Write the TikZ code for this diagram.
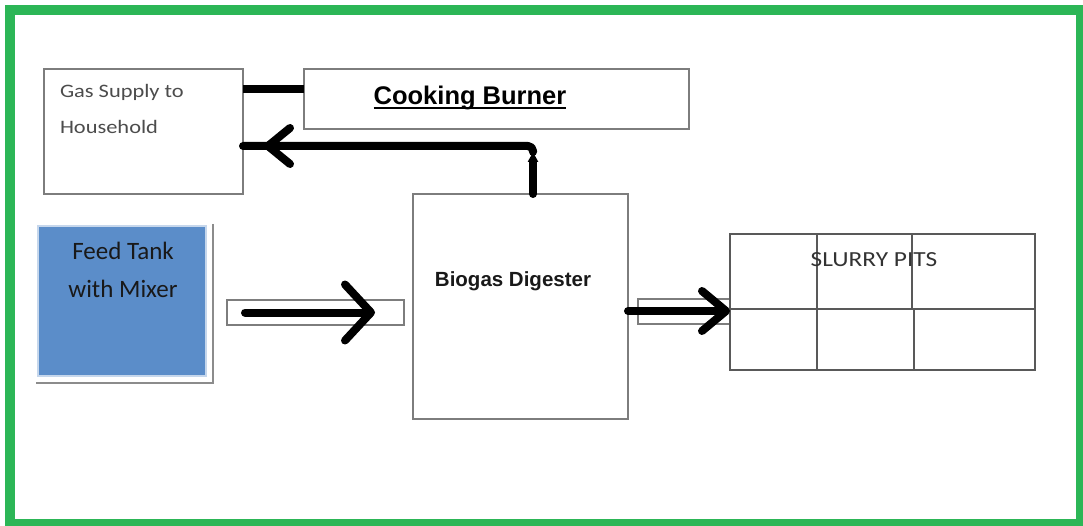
\documentclass[tikz,border=0pt]{standalone}
\usepackage{fontspec}
\usetikzlibrary{arrows.meta, positioning, decorations.markings}
\newfontfamily\carlito{Carlito}
\newfontfamily\carlitowide[FakeStretch=1.18]{Carlito}
\newfontfamily\arialfont{Liberation Sans}
\definecolor{framegreen}{RGB}{44,182,86}
\definecolor{feedblue}{RGB}{91,141,201}
\definecolor{boxgray}{RGB}{125,125,125}
\newcommand{\thickunder}[1]{\setbox0\hbox{#1}\rlap{\rule[-4.5pt]{\wd0}{2pt}}\box0}

\begin{document}
\begin{tikzpicture}[
    x=1pt, y=-1pt,
    box/.style={rectangle, draw=boxgray, line width=1.5pt, fill=white, inner sep=0pt, outer sep=0pt},
    feed/.style={rectangle, fill=feedblue, draw=feedblue!35!white, line width=2pt, inner sep=0pt, outer sep=0pt},
    gridline/.style={draw=black!65, line width=1.3pt},
    fat/.style={line width=8pt, line cap=round, line join=round},
    label/.style={inner sep=0pt, outer sep=0pt}
]
\useasboundingbox (0,0) rectangle (1083,526);

% Frame
\draw[framegreen, line width=10pt] (10,10) rectangle (1081,524);

% Gas supply and burner
\node[box, minimum width=199pt, minimum height=125pt] (gas) at (143.5,131.5) {};
\node[label, anchor=north west, align=left, text=black!70,
      font=\carlitowide\fontsize{19}{36}\selectfont] (gaslbl) at (60,84) {Gas Supply to\\Household};
\node[box, minimum width=385pt, minimum height=60pt] (burner) at (496.5,99) {};
\node[label, anchor=base, font=\arialfont\bfseries\fontsize{25.5}{30}\selectfont] (burnerlbl) at (470,105) {\thickunder{Cooking Burner}};

% Feed tank
\node[feed, minimum width=168pt, minimum height=150pt] (feed) at (122,301) {};
\draw[draw=black!45, line width=1.3pt] ([xshift=7pt,yshift=2pt]feed.north east) -- ([xshift=7pt,yshift=-7pt]feed.south east) -- ([xshift=-2pt,yshift=-7pt]feed.south west);
\node[label, anchor=north, align=center, text=black!90,
      font=\carlito\fontsize{25}{38}\selectfont] (feedlbl) at (123,242) {Feed Tank\\with Mixer};

% Inlet pipe
\node[box, minimum width=177pt, minimum height=25pt] (inpipe) at (315.5,312.5) {};

% Digester
\node[box, minimum width=215pt, minimum height=225pt] (digester) at (520.5,306.5) {};
\node[label, anchor=base, text=black!90, font=\arialfont\bfseries\fontsize{20.5}{24}\selectfont] (digesterlbl) at (513,287) {Biogas Digester};

% Outlet pipe
\node[box, minimum width=92pt, minimum height=25pt] (outpipe) at (684,311.5) {};

% Slurry pits
\node[box, draw=black!65, line width=1.3pt, minimum width=305pt, minimum height=136pt] (pits) at (882.5,302) {};
\draw[gridline] (pits.west |- 0,309) -- (pits.east |- 0,309);
\draw[gridline] (817,0 |- pits.north) -- (817,0 |- pits.south);
\draw[gridline] (912,0 |- pits.north) -- (912,309) -- (914,309) -- (914,0 |- pits.south);
\node[label, anchor=base, text=black!80, font=\carlitowide\fontsize{21.5}{26}\selectfont] (pitslbl) at (874,267) {SLURRY PITS};

% Arrows
\draw[fat, line cap=butt] (gas.east |- 0,89) -- (burner.west |- 0,89);

\coordinate (bend) at (533,152);
\draw[fat, -{Triangle[length=10pt, width=10pt]}] (digester.north -| bend) -- (bend);
\draw[fat, rounded corners=5pt, postaction={decorate},
      decoration={markings, mark=at position -21pt with {\arrow{Straight Barb[length=22pt, width=36pt, round]}}}]
      (bend) |- ([yshift=-14.5pt]gas.east);

\draw[fat, -{Straight Barb[length=26pt, width=56pt, round]}] ([xshift=18pt]inpipe.west) -- ([xshift=-29pt]inpipe.east);
\draw[fat, -{Straight Barb[length=24pt, width=40pt, round]}] (digester.east |- 0,311) -- (pits.west |- 0,311);

\end{tikzpicture}
\end{document}
